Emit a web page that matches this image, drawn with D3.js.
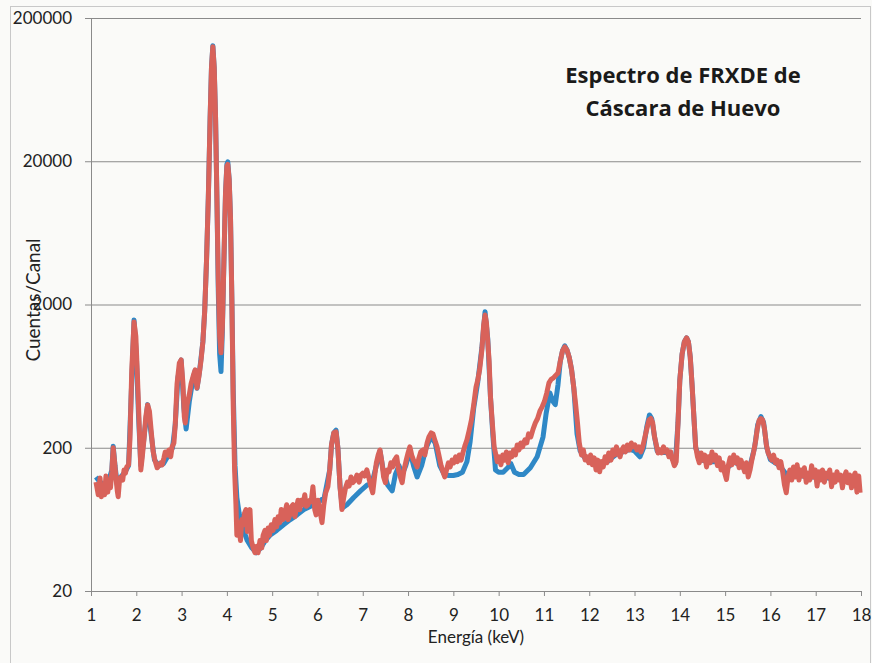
<!DOCTYPE html>
<html lang="es">
<head>
<meta charset="utf-8">
<title>Espectro de FRXDE</title>
<script src="https://cdn.jsdelivr.net/npm/d3@7"></script>
<style>
  body { margin: 0; background: #fafaf8; }
  svg { display: block; font-family: Lato, "Open Sans", sans-serif; }
</style>
</head>
<body>
<script>
// energy (keV) and counts
var redE = [1.11,1.16,1.20,1.23,1.26,1.30,1.33,1.37,1.40,1.43,1.46,1.49,1.52,1.55,1.58,1.60,1.63,1.66,1.70,1.73,1.76,1.79,1.83,1.86,1.90,1.95,1.99,2.02,2.06,2.10,2.13,2.17,2.21,2.25,2.29,2.33,2.37,2.41,2.46,2.50,2.54,2.57,2.61,2.64,2.68,2.72,2.76,2.79,2.83,2.86,2.90,2.95,2.99,3.03,3.06,3.08,3.12,3.17,3.21,3.26,3.30,3.34,3.38,3.43,3.47,3.51,3.55,3.59,3.63,3.66,3.69,3.72,3.75,3.78,3.81,3.84,3.87,3.90,3.94,3.97,4.00,4.02,4.05,4.08,4.11,4.14,4.17,4.20,4.22,4.25,4.27,4.30,4.33,4.36,4.39,4.42,4.45,4.48,4.51,4.54,4.58,4.62,4.66,4.69,4.73,4.77,4.80,4.84,4.87,4.91,4.94,4.98,5.02,5.06,5.10,5.13,5.17,5.20,5.24,5.28,5.32,5.35,5.39,5.43,5.46,5.50,5.53,5.57,5.61,5.64,5.68,5.72,5.75,5.79,5.83,5.86,5.90,5.94,5.97,6.01,6.05,6.10,6.14,6.18,6.23,6.27,6.31,6.36,6.41,6.45,6.50,6.54,6.58,6.62,6.66,6.70,6.74,6.78,6.83,6.87,6.92,6.96,7.00,7.04,7.09,7.13,7.18,7.22,7.26,7.30,7.34,7.38,7.42,7.46,7.50,7.54,7.58,7.62,7.66,7.70,7.75,7.79,7.83,7.87,7.91,7.96,8.00,8.04,8.08,8.12,8.16,8.20,8.24,8.28,8.33,8.37,8.42,8.46,8.51,8.55,8.59,8.64,8.68,8.73,8.77,8.81,8.85,8.89,8.93,8.97,9.01,9.05,9.09,9.13,9.17,9.21,9.26,9.30,9.35,9.40,9.45,9.50,9.54,9.58,9.63,9.67,9.70,9.73,9.76,9.79,9.82,9.86,9.90,9.94,9.97,10.01,10.05,10.09,10.13,10.17,10.21,10.25,10.29,10.33,10.37,10.41,10.45,10.49,10.53,10.58,10.62,10.66,10.71,10.76,10.81,10.86,10.91,10.96,11.01,11.06,11.11,11.16,11.21,11.26,11.31,11.36,11.41,11.46,11.51,11.56,11.61,11.66,11.70,11.74,11.78,11.83,11.87,11.91,11.95,11.99,12.03,12.07,12.11,12.15,12.19,12.23,12.27,12.31,12.35,12.39,12.43,12.48,12.52,12.56,12.60,12.64,12.68,12.72,12.76,12.80,12.84,12.89,12.93,12.97,13.01,13.05,13.10,13.14,13.18,13.22,13.27,13.32,13.36,13.40,13.44,13.48,13.52,13.56,13.60,13.64,13.68,13.72,13.76,13.80,13.84,13.88,13.92,13.96,14.00,14.05,14.10,14.15,14.19,14.23,14.27,14.31,14.35,14.39,14.43,14.47,14.51,14.55,14.59,14.63,14.67,14.71,14.75,14.79,14.83,14.87,14.91,14.95,14.99,15.03,15.07,15.11,15.15,15.19,15.23,15.27,15.31,15.35,15.39,15.43,15.47,15.51,15.55,15.59,15.63,15.67,15.71,15.75,15.79,15.83,15.87,15.91,15.95,15.99,16.03,16.07,16.11,16.15,16.19,16.23,16.27,16.31,16.35,16.39,16.43,16.47,16.51,16.55,16.59,16.63,16.67,16.71,16.75,16.79,16.83,16.87,16.91,16.95,16.99,17.03,17.07,17.11,17.15,17.19,17.23,17.27,17.31,17.35,17.39,17.43,17.47,17.51,17.55,17.59,17.63,17.67,17.71,17.75,17.79,17.83,17.87,17.91,17.95,17.98];
var redCounts = [115,94,123,91,108,94,127,98,119,105,136,200,160,125,100,91,119,125,119,140,133,147,152,230,700,1510,1200,700,313,140,170,230,330,398,360,260,190,164,145,150,157,152,170,187,178,193,173,203,216,290,560,780,820,560,330,298,400,470,560,640,700,523,620,820,1100,1800,4000,11000,40000,90000,126000,90000,40000,11000,3000,1200,920,1400,4800,12000,18500,19000,15000,8000,2150,400,140,80,49,60,56,45,63,58,70,74,52,63,74,45,40,37,41,37,45,40,49,53,45,55,49,58,53,63,56,66,60,74,63,70,80,63,68,78,80,66,74,86,74,86,80,94,78,80,86,84,107,74,68,86,74,60,80,97,107,140,210,254,258,200,105,74,90,105,115,108,125,114,119,129,115,129,133,127,140,125,107,97,125,157,178,193,160,125,114,140,136,157,147,164,173,140,125,114,140,164,184,203,178,164,157,147,170,187,193,178,216,238,254,250,227,203,178,150,136,125,140,157,147,164,157,173,160,178,164,184,209,227,265,313,400,530,595,700,964,1450,1690,1500,1100,800,450,298,203,178,160,173,152,178,164,187,157,184,173,193,178,209,193,216,203,227,216,250,238,270,298,320,360,386,420,480,567,600,614,640,665,800,950,1012,960,850,700,520,400,300,216,178,193,164,173,157,178,152,170,140,164,136,160,147,173,157,184,164,193,178,203,184,173,193,203,187,209,193,216,203,209,193,203,187,203,230,270,313,320,300,240,210,184,193,184,203,187,193,173,187,164,150,160,300,595,900,1100,1170,1100,860,550,330,203,173,157,184,164,178,147,173,157,187,164,178,150,170,140,157,133,120,150,170,152,178,157,170,145,164,150,136,157,125,140,164,187,220,270,310,320,313,270,210,184,173,164,178,157,164,145,160,136,110,97,125,140,119,147,125,152,119,140,127,145,115,133,119,150,125,140,108,136,119,140,115,133,125,140,107,129,115,136,119,129,105,125,136,114,129,105,125,133,98,127,97];

var blueE = [1.11,1.20,1.30,1.40,1.46,1.49,1.53,1.58,1.66,1.75,1.83,1.88,1.95,2.00,2.05,2.10,2.16,2.25,2.32,2.40,2.50,2.60,2.70,2.80,2.86,2.92,2.99,3.05,3.10,3.17,3.25,3.30,3.34,3.40,3.47,3.51,3.55,3.59,3.63,3.66,3.69,3.72,3.75,3.78,3.81,3.84,3.87,3.90,3.94,3.97,4.00,4.02,4.05,4.08,4.11,4.14,4.18,4.22,4.27,4.35,4.45,4.55,4.65,4.75,4.85,4.95,5.10,5.25,5.40,5.55,5.70,5.85,6.00,6.15,6.27,6.31,6.36,6.41,6.45,6.50,6.55,6.65,6.80,6.95,7.10,7.20,7.30,7.38,7.45,7.55,7.65,7.72,7.80,7.87,7.95,8.04,8.12,8.20,8.30,8.40,8.51,8.60,8.70,8.80,8.90,9.00,9.10,9.20,9.30,9.37,9.45,9.54,9.63,9.70,9.76,9.82,9.87,9.93,10.00,10.10,10.20,10.27,10.35,10.45,10.55,10.70,10.85,10.98,11.05,11.13,11.20,11.25,11.31,11.36,11.41,11.46,11.51,11.56,11.61,11.66,11.73,11.80,11.90,12.00,12.10,12.20,12.30,12.40,12.50,12.60,12.70,12.80,12.90,13.00,13.12,13.20,13.27,13.33,13.38,13.44,13.50,13.60,13.70,13.80,13.90,13.96,14.00,14.05,14.10,14.15,14.19,14.23,14.27,14.31,14.35,14.45,14.60,14.80,15.00,15.20,15.40,15.55,15.65,15.72,15.79,15.85,15.92,16.00,16.20,16.40,16.60,16.80,17.00,17.20,17.40,17.60,17.80,17.98];
var blueCounts = [125,115,110,120,140,205,150,110,125,135,150,400,1560,900,330,150,220,400,260,165,150,155,175,200,290,620,820,380,270,420,600,690,520,700,1100,1800,4000,11000,40000,90000,128000,90000,40000,11000,2500,900,680,1300,4800,12000,19000,19800,15000,8000,2150,500,150,90,70,55,45,40,37,40,45,49,53,58,63,68,74,78,82,90,140,210,254,265,200,105,76,80,90,100,110,112,150,190,140,110,100,130,150,130,150,190,150,125,150,200,240,215,150,130,128,128,130,135,160,220,380,580,1000,1780,1150,450,250,140,135,135,145,155,135,130,130,145,173,238,350,483,420,400,550,800,950,1030,960,850,700,520,250,190,170,160,155,150,155,160,170,180,185,190,195,190,173,200,280,339,320,240,190,185,185,175,155,300,595,900,1100,1170,1100,860,550,330,200,165,160,160,140,160,145,150,200,290,330,300,200,165,150,125,130,125,125,125,120,120,118,115];

var xTicks = d3.range(1, 19);
var yTicks = [20, 200, 2000, 20000, 200000];
var titleLines = ["Espectro de FRXDE de", "Cáscara de Huevo"];

var W = 872, H = 663;
var m = { left: 91, right: 11, top: 18, bottom: 72 };

var svg = d3.select("body").append("svg")
    .attr("width", W)
    .attr("height", H);

svg.append("rect")
    .attr("x", 10.5).attr("y", 6.5)
    .attr("width", 860).attr("height", 680)
    .attr("fill", "#fafaf8")
    .attr("stroke", "#c8c8c8");

var x = d3.scaleLinear().domain([1, 18]).range([m.left, W - m.right]);
var y = d3.scaleLog().domain([20, 200000]).range([H - m.bottom, m.top]);

// gridlines + y axis
var yAxis = svg.append("g")
    .attr("transform", "translate(" + m.left + ",0)")
    .call(d3.axisLeft(y).tickValues(yTicks).tickFormat(d3.format("d"))
        .tickSize(-(W - m.right - m.left)).tickPadding(19));
yAxis.select(".domain").attr("stroke", "#8a8a8a");
yAxis.selectAll(".tick line").attr("stroke", "#8a8a8a").attr("x1", -6);
yAxis.selectAll(".tick text")
    .attr("font-size", 17).attr("fill", "#222")
    .attr("font-family", "Lato, sans-serif");

// x axis
var xAxis = svg.append("g")
    .attr("transform", "translate(0," + y(20) + ")")
    .call(d3.axisBottom(x).tickValues(xTicks).tickSize(5).tickPadding(13));
xAxis.select(".domain").attr("stroke", "#8a8a8a");
xAxis.selectAll(".tick line").attr("stroke", "#8a8a8a");
xAxis.selectAll(".tick text")
    .attr("font-size", 17).attr("fill", "#222")
    .attr("font-family", "Lato, sans-serif");

var line = d3.line()
    .x(function(d) { return x(d[0]); })
    .y(function(d) { return y(d[1]); });

var blue = d3.zip(blueE, blueCounts);
var red = d3.zip(redE, redCounts);

svg.append("path")
    .datum(blue)
    .attr("d", line)
    .attr("fill", "none")
    .attr("stroke", "#2f88c6")
    .attr("stroke-width", 5)
    .attr("stroke-linejoin", "round");

svg.append("path")
    .datum(red)
    .attr("d", line)
    .attr("fill", "none")
    .attr("stroke", "#d8625a")
    .attr("stroke-width", 5)
    .attr("stroke-linejoin", "round");

// titles
svg.selectAll("text.title")
    .data(titleLines)
    .enter()
    .append("text")
    .attr("class", "title")
    .attr("x", 683)
    .attr("y", function(d, i) { return 83 + i * 33; })
    .attr("text-anchor", "middle")
    .attr("font-family", "'Open Sans', sans-serif")
    .attr("font-size", 22)
    .attr("font-weight", "bold")
    .attr("fill", "#1a1a1a")
    .text(function(d) { return d; });

svg.append("text")
    .attr("x", (m.left + W - m.right) / 2)
    .attr("y", 643)
    .attr("text-anchor", "middle")
    .attr("font-size", 17)
    .attr("fill", "#222")
    .text("Energía (keV)");

svg.append("text")
    .attr("transform", "translate(40,300) rotate(-90)")
    .attr("text-anchor", "middle")
    .attr("font-size", 19)
    .attr("fill", "#222")
    .text("Cuentas/Canal");
</script>
</body>
</html>
